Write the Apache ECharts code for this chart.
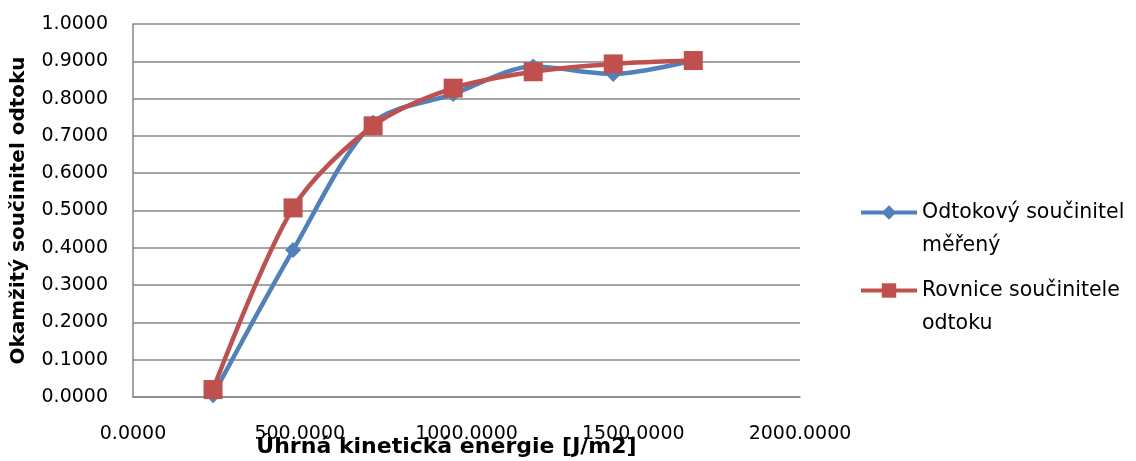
<!DOCTYPE html>
<html>
<head>
<meta charset="utf-8">
<script src="https://cdn.jsdelivr.net/npm/echarts@6/dist/echarts.min.js"></script>
<style>
html,body{margin:0;padding:0;background:#fff;}
#main{width:1136px;height:461px;}
</style>
</head>
<body>
<div id="main"></div>
<script>
// energie [J/m2]
var energie = [240, 480, 720, 960, 1200, 1440, 1680];
// odtokovy soucinitel mereny
var mereny = [0.005, 0.394, 0.735, 0.812, 0.886, 0.866, 0.902];
// rovnice soucinitele odtoku
var rovnice = [0.020, 0.507, 0.727, 0.828, 0.872, 0.893, 0.902];

var nazvy = ['Odtokový součinitel měřený', 'Rovnice součinitele odtoku'];
// prazdny prvni radek -> ikona legendy zarovnana s prvnim radkem textu
var zalomene = {
    'Odtokový součinitel měřený': '\u00a0\nOdtokový součinitel\nměřený',
    'Rovnice součinitele odtoku': '\u00a0\nRovnice součinitele\nodtoku'
};

function body(xs, ys) {
    var out = [];
    for (var i = 0; i < xs.length; i++) out.push([xs[i], ys[i]]);
    return out;
}

var font = '"DejaVu Sans", sans-serif';
var myChart = echarts.init(document.getElementById('main'));

var option = {
    animation: false,
    grid: {left: 133, top: 24, right: 336, bottom: 64, outerBoundsMode: 'none', containLabel: false},
    legend: {
        orient: 'vertical',
        left: 859,
        top: 163,
        padding: 0,
        itemGap: -21,
        itemWidth: 56,
        itemHeight: 18,
        data: nazvy,
        lineStyle: {width: 4},
        formatter: function (n) { return zalomene[n]; },
        textStyle: {fontFamily: font, fontSize: 20.5, color: '#000', lineHeight: 33}
    },
    xAxis: {
        type: 'value',
        min: 0, max: 2000, interval: 500,
        name: 'Úhrná kinetická energie [J/m2]',
        nameLocation: 'middle',
        nameGap: 39,
        nameMoveOverlap: false,
        nameTextStyle: {fontFamily: font, fontSize: 22, fontWeight: 'bold', color: '#000', padding: [0, 40, 0, 0]},
        axisLine: {lineStyle: {color: '#868686', width: 1.5}},
        axisTick: {show: false},
        splitLine: {show: false},
        axisLabel: {
            fontFamily: font, fontSize: 19, color: '#000', margin: 28,
            formatter: function (v) { return v.toFixed(4); }
        }
    },
    yAxis: {
        type: 'value',
        min: 0, max: 1, interval: 0.1,
        name: 'Okamžitý součinitel odtoku',
        nameLocation: 'middle',
        nameGap: 104,
        nameMoveOverlap: false,
        nameTextStyle: {fontFamily: font, fontSize: 20, fontWeight: 'bold', color: '#000'},
        axisLine: {show: true, lineStyle: {color: '#868686', width: 1.5}},
        axisTick: {show: false},
        splitLine: {lineStyle: {color: '#868686', width: 1.5}},
        axisLabel: {
            fontFamily: font, fontSize: 19, color: '#000', margin: 25,
            formatter: function (v) { return v.toFixed(4); }
        }
    },
    series: [
        {
            name: nazvy[0],
            type: 'line',
            smooth: 0.3,
            data: body(energie, mereny),
            symbol: 'diamond',
            symbolSize: 16,
            itemStyle: {color: '#4F81BD'},
            lineStyle: {color: '#4F81BD', width: 4.5}
        },
        {
            name: nazvy[1],
            type: 'line',
            smooth: 0.3,
            data: body(energie, rovnice),
            symbol: 'rect',
            symbolSize: 19,
            itemStyle: {color: '#C0504D'},
            lineStyle: {color: '#C0504D', width: 4.5}
        }
    ]
};

myChart.setOption(option);
</script>
</body>
</html>
